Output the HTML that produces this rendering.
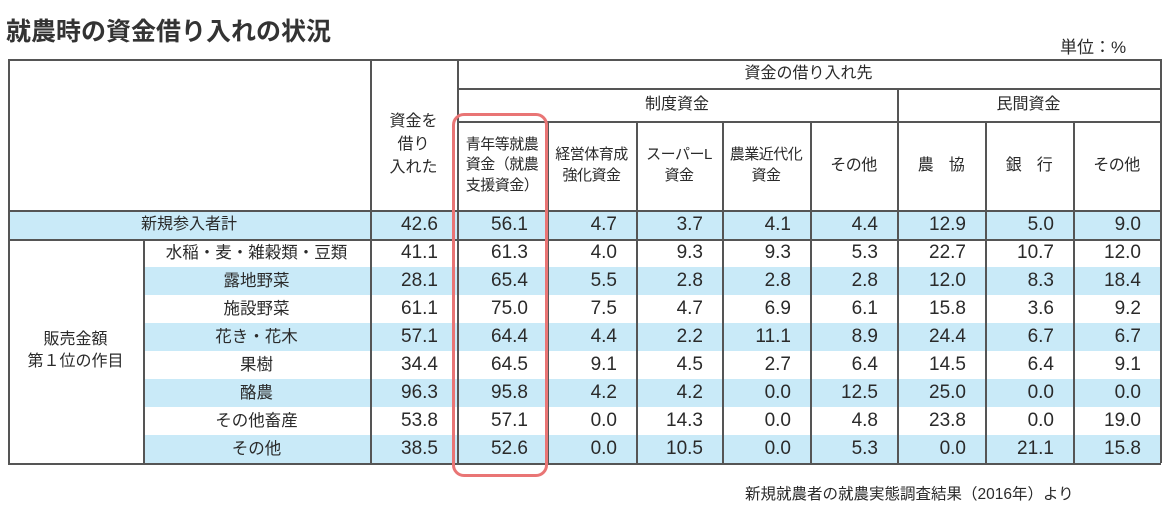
<!DOCTYPE html>
<html><head><meta charset="utf-8">
<style>
body{margin:0;width:1170px;height:507px;background:#fff;overflow:hidden;position:relative;font-family:"Liberation Sans","Noto Sans CJK JP",sans-serif;color:#2a2a2a}
.a{position:absolute;box-sizing:border-box}
.t{display:flex;align-items:center;justify-content:center;text-align:center;line-height:1.35}
.n{display:flex;align-items:center;justify-content:flex-end;padding-right:19px;font-size:19px}
.v{position:absolute;width:1.5px;background:#555}
.h{position:absolute;height:1.5px;background:#555}
</style></head><body>
<div class="a" style="left:6px;top:12px;font-size:25px;font-weight:bold;color:#333">就農時の資金借り入れの状況</div>
<div class="a" style="left:1060px;top:33px;font-size:17px">単位：%</div>
<div class="a" style="left:745px;top:482px;font-size:15.5px">新規就農者の就農実態調査結果（2016年）より</div>
<div id="tbl"></div>
<div class="a" style="left:452px;top:113px;width:96px;height:364px;border:3px solid #e97575;border-radius:12px"></div>
<script>
const cats=["水稲・麦・雑穀類・豆類","露地野菜","施設野菜","花き・花木","果樹","酪農","その他畜産","その他"];
const totalRow=[42.6,56.1,4.7,3.7,4.1,4.4,12.9,5.0,9.0];
const borrowed=[41.1,28.1,61.1,57.1,34.4,96.3,53.8,38.5];
const youthFund=[61.3,65.4,75.0,64.4,64.5,95.8,57.1,52.6];
const mgmtFund=[4.0,5.5,7.5,4.4,9.1,4.2,0.0,0.0];
const superL=[9.3,2.8,4.7,2.2,4.5,4.2,14.3,10.5];
const modernFund=[9.3,2.8,6.9,11.1,2.7,0.0,0.0,0.0];
const otherInst=[5.3,2.8,6.1,8.9,6.4,12.5,4.8,5.3];
const ja=[22.7,12.0,15.8,24.4,14.5,25.0,23.8,0.0];
const bank=[10.7,8.3,3.6,6.7,6.4,0.0,0.0,21.1];
const otherPriv=[12.0,18.4,9.2,6.7,9.1,0.0,19.0,15.8];
const series=[borrowed,youthFund,mgmtFund,superL,modernFund,otherInst,ja,bank,otherPriv];
const colX=[370,457,547,636,722,810,897,985,1073,1160];
const L=8,R=1160,T=59,H1=88,H2=121,HR=210,B0=239,RH=28;
const tb=document.getElementById('tbl');
function box(x,y,w,h,cls,txt,name,extra){const d=document.createElement('div');d.className='a '+cls;d.style.cssText=`left:${x}px;top:${y}px;width:${w}px;height:${h}px;`+(extra||'');d.textContent=txt;


tb.appendChild(d);return d;}
box(L,HR,R-L,B0-HR,'','','total-row-bg','background:#c9eaf8');
for(let i=0;i<cats.length;i++){if(i%2==1)box(143,B0+i*RH,R-143,RH,'','','row-stripe','background:#c9eaf8');}
box(457,T,R-457,H1-T,'t','資金の借り入れ先','header-borrow-source','font-size:16px');
box(457,H1,897-457,H2-H1,'t','制度資金','header-institutional','font-size:16px');
box(897,H1,R-897,H2-H1,'t','民間資金','header-private','font-size:16px');
box(370,T,87,HR-T,'t','資金を\n借り\n入れた','header-borrowed','font-size:16px;white-space:pre;padding-top:20px;line-height:1.45');
const subs=["青年等就農\n資金（就農\n支援資金）","経営体育成\n強化資金","スーパーL\n資金","農業近代化\n資金","その他","農　協","銀　行","その他"];
subs.forEach((s,i)=>box(colX[i+1],H2,colX[i+2]-colX[i+1],HR-H2,'t',s,'header-sub-'+i,'font-size:'+(i<4?15:16)+'px;white-space:pre;letter-spacing:-0.5px'));
box(L,HR,370-L,B0-HR,'t','新規参入者計','row-total-label','font-size:16px');
totalRow.forEach((v,j)=>box(colX[j],HR,colX[j+1]-colX[j],B0-HR,'n',v.toFixed(1),'total-value'));
box(L,B0,143-L,RH*8,'t','販売金額\n第１位の作目','group-label','font-size:16px;white-space:pre');
cats.forEach((c,i)=>{const y=B0+i*RH;
 box(143,y,370-143,RH,'t',c,'row-label','font-size:16.5px');
 series.forEach((s,j)=>box(colX[j],y,colX[j+1]-colX[j],RH,'n',s[i].toFixed(1),'cell-value'));});
function line(cls,x,y,len){const d=document.createElement('div');d.className=cls;if(cls=='v'){d.style.cssText=`left:${x}px;top:${y}px;height:${len}px`}else{d.style.cssText=`left:${x}px;top:${y}px;width:${len}px`}


tb.appendChild(d);}
const BOT=B0+RH*8;
line('h',L,T,R-L);line('h',457,H1,R-457);line('h',457,H2,R-457);line('h',L,HR,R-L);line('h',L,B0,R-L);line('h',L,BOT,R-L+1);
line('v',L,T,BOT-T);line('v',R,T,BOT-T);line('v',370,T,BOT-T);line('v',457,T,BOT-T);line('v',897,H1,BOT-H1);
for(let j=2;j<colX.length-1;j++){if(colX[j]!=897)line('v',colX[j],H2,BOT-H2);}
line('v',143,B0,BOT-B0);
</script>
</body></html>
